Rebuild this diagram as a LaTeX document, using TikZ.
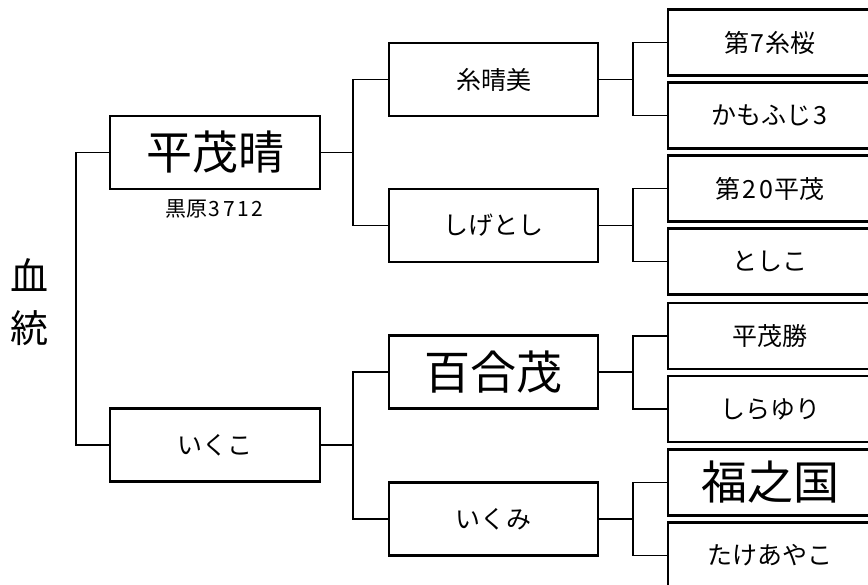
\documentclass[tikz,border=0pt]{standalone}
\usepackage{fontspec}
\setmainfont{Noto Sans CJK JP}
\newcommand\dg[1]{\makebox[0.68em]{#1}}
\begin{document}
\begin{tikzpicture}[x=1pt,y=-1pt,
  box/.style={draw, line width=2.3pt, outer sep=0pt, inner sep=0pt, align=center},
  gen1/.style={box, minimum width=210pt, minimum height=73pt},
  gen2/.style={box, minimum width=209pt, minimum height=73pt},
  gen3/.style={box, minimum width=204pt, minimum height=66pt},
  big/.style={font=\fontsize{46}{50}\selectfont},
  mid/.style={font=\fontsize{25}{30}\selectfont},
  small/.style={font=\fontsize{21}{24}\selectfont},
  link/.style={line width=1.9pt}
]
\useasboundingbox (0,0) rectangle (868,585);
\clip (0,0) rectangle (868,585);
% generation 1
\node[gen1, big] (a) at (215,152.5) {平茂晴};
\node[small] (areg) at (215,209) {黒原\dg{3}\dg{7}\dg{1}\dg{2}};
\node[gen1, mid] (b) at (215,445) {いくこ};
% generation 2
\node[gen2, mid] (aa) at (493.5,79.5) {糸晴美};
\node[gen2, mid] (ab) at (493.5,225.5) {しげとし};
\node[gen2, big] (ba) at (493.5,372) {百合茂};
\node[gen2, mid] (bb) at (493.5,519) {いくみ};
% generation 3
\node[gen3, mid] (aaa) at (770,42.5) {第\dg{7}糸桜};
\node[gen3, mid] (aab) at (770,115.5) {かもふじ\dg{3}};
\node[gen3, mid] (aba) at (770,188.5) {第\dg{2}\dg{0}平茂};
\node[gen3, mid] (abb) at (770,261.5) {としこ};
\node[gen3, mid] (baa) at (770,336) {平茂勝};
\node[gen3, mid] (bab) at (770,409) {しらゆり};
\node[gen3, big] (bba) at (770,482.5) {福之国};
\node[gen3, mid] (bbb) at (770,555.5) {たけあやこ};
% title
\node[font=\fontsize{38}{40}\selectfont, inner sep=0pt] (t1) at (29,275) {血};
\node[font=\fontsize{38}{40}\selectfont, inner sep=0pt] (t2) at (29,328) {統};
% fork columns
\coordinate (f0) at (76,0);
\coordinate (f1) at (353,0);
\coordinate (f2) at (633,0);
% connectors
\draw[link] (a.west) -- (a.west -| f0) |- (b.west);
\draw[link] (a.east) -- (a.east -| f1) |- (aa.west);
\draw[link] (a.east -| f1) |- (ab.west);
\draw[link] (b.east) -- (b.east -| f1) |- (ba.west);
\draw[link] (b.east -| f1) |- (bb.west);
\draw[link] (aa.east) -- (aa.east -| f2) |- (aaa.west);
\draw[link] (aa.east -| f2) |- (aab.west);
\draw[link] (ab.east) -- (ab.east -| f2) |- (aba.west);
\draw[link] (ab.east -| f2) |- (abb.west);
\draw[link] (ba.east) -- (ba.east -| f2) |- (baa.west);
\draw[link] (ba.east -| f2) |- (bab.west);
\draw[link] (bb.east) -- (bb.east -| f2) |- (bba.west);
\draw[link] (bb.east -| f2) |- (bbb.west);
\end{tikzpicture}
\end{document}
